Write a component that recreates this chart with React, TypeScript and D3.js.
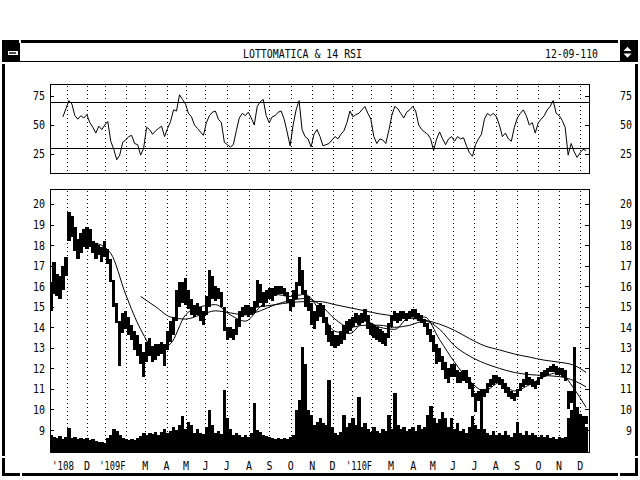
import React from 'react';
import * as d3 from 'd3';

// ---------- data ----------
const TITLE = 'LOTTOMATICA & 14 RSI';
const DATE_LABEL = '12-09-110';
const FIRST_SESSION = '2008-10-08';
const AXIS_END = '2010-12-14';
const FIRST_BAR = '2008-10-09';
const LAST_BAR = '2010-12-09';
const HOLIDAYS = ['2008-12-24', '2008-12-25', '2008-12-26', '2008-12-31', '2009-01-01', '2009-04-10', '2009-04-13',
  '2009-05-01', '2009-12-24', '2009-12-25', '2009-12-31', '2010-01-01', '2010-04-02', '2010-04-05'];

const monthLabels = ["'108", 'D', "'109", 'F', 'M', 'A', 'M', 'J', 'J', 'A', 'S', 'O', 'N', 'D',
  "'110", 'F', 'M', 'A', 'M', 'J', 'J', 'A', 'S', 'O', 'N', 'D'];
const priceTicks = [20, 19, 18, 17, 16, 15, 14, 13, 12, 11, 10, 9];
const rsiTicks = [75, 50, 25];
const rsiBands = [70, 30];

const priceLow = [
  14.8, 15.6, 15.5, 15.4, 15.8, 16.5, 18.2, 18.4, 17.7, 17.3,
  17.6, 17.9, 17.8, 17.9, 17.6, 17.3, 17.5, 17.2, 17.4, 17.1,
  16.2, 15.0, 14.2, 12.1, 13.7, 13.9, 13.6, 13.4, 12.9, 12.6,
  12.2, 11.6, 12.3, 12.6, 12.3, 12.4, 12.6, 12.7, 12.1, 12.9,
  13.3, 13.6, 14.3, 15.0, 15.2, 15.1, 14.9, 14.6, 14.5, 14.6,
  14.3, 14.1, 14.6, 15.0, 15.4, 15.3, 15.4, 15.0, 13.8, 13.4,
  13.5, 13.4, 13.6, 14.0, 14.5, 14.6, 14.5, 14.6, 14.7, 15.0,
  15.2, 15.0, 15.2, 15.4, 15.3, 15.5, 15.6, 15.6, 15.5, 15.2,
  14.8, 15.0, 15.4, 16.0, 15.6, 15.0, 14.8, 14.1, 13.9, 14.3,
  14.5, 14.2, 13.6, 13.3, 13.1, 13.0, 13.1, 13.2, 13.4, 13.7,
  13.8, 14.0, 14.2, 14.1, 14.2, 14.3, 13.9, 13.6, 13.5, 13.4,
  13.3, 13.2, 13.1, 13.5, 14.0, 14.3, 14.2, 14.3, 14.4, 14.3,
  14.4, 14.5, 14.4, 14.3, 14.2, 14.0, 13.6, 13.3, 12.8, 12.2,
  12.3, 11.9, 11.5, 11.3, 11.6, 11.6, 11.3, 11.3, 11.4, 11.3,
  11.0, 10.6, 9.9, 10.4, 10.5, 10.6, 10.8, 11.1, 11.2, 11.3,
  11.2, 11.0, 10.8, 10.6, 10.5, 10.4, 10.6, 10.9, 11.1, 11.2,
  11.2, 11.1, 11.0, 11.2, 11.5, 11.6, 11.7, 11.8, 11.8, 11.7,
  11.7, 11.6, 11.4, 10.0, 10.3, 9.9, 9.4, 9.3, 9.2, 9.3,
];
const priceHigh = [
  16.2, 17.2, 16.6, 16.5, 17.0, 17.4, 19.6, 19.4, 18.9, 18.3,
  18.6, 18.8, 18.9, 18.8, 18.2, 18.1, 18.0, 17.9, 18.2, 17.8,
  17.3, 16.3, 15.2, 14.3, 14.7, 14.8, 14.5, 14.1, 13.8, 13.6,
  13.2, 12.8, 13.3, 13.5, 13.1, 13.2, 13.2, 13.3, 13.2, 13.8,
  14.3, 14.5, 15.8, 16.2, 16.2, 16.4, 15.8, 15.4, 15.1, 15.2,
  15.0, 14.8, 15.5, 16.8, 16.5, 16.0, 15.9, 15.7, 15.0, 14.0,
  14.0, 13.9, 14.4, 14.8, 15.0, 15.1, 15.1, 15.0, 15.3, 16.3,
  16.1, 15.7, 15.8, 15.9, 15.9, 16.0, 16.0, 16.0, 15.9, 15.7,
  15.4, 15.8, 16.2, 17.4, 16.8, 15.8, 15.5, 15.2, 14.8, 15.1,
  15.2, 15.1, 14.5, 14.1, 13.8, 13.6, 13.6, 13.8, 14.1, 14.3,
  14.4, 14.5, 14.7, 14.6, 14.7, 14.9, 14.6, 14.2, 14.1, 14.0,
  13.9, 13.8, 13.7, 14.2, 14.6, 14.8, 14.7, 14.8, 14.8, 14.7,
  14.8, 14.9, 14.9, 14.7, 14.6, 14.4, 14.2, 13.9, 13.6, 13.2,
  13.0, 12.6, 12.3, 12.0, 12.2, 12.2, 11.9, 11.8, 11.9, 11.9,
  11.6, 11.3, 10.8, 10.9, 11.0, 11.0, 11.3, 11.5, 11.7, 11.7,
  11.6, 11.5, 11.3, 11.1, 10.9, 10.8, 11.0, 11.3, 11.5, 11.8,
  11.6, 11.5, 11.4, 11.6, 11.8, 11.9, 12.0, 12.1, 12.2, 12.1,
  12.0, 12.0, 11.9, 10.9, 10.9, 10.6, 10.1, 9.8, 9.7, 9.7,
];
// volume, thousands of shares
const volume = [
  850, 750, 700, 800, 650, 750, 1200, 700, 750, 650,
  700, 650, 700, 600, 650, 550, 500, 500, 450, 700,
  850, 1150, 1050, 850, 700, 650, 600, 650, 600, 700,
  800, 950, 850, 950, 900, 1000, 850, 1000, 1150, 950,
  1050, 1250, 1100, 1350, 1800, 1150, 1500, 1350, 950, 1150,
  950, 900, 1250, 2100, 1350, 950, 1050, 900, 3100, 1700,
  1150, 850, 950, 850, 750, 850, 750, 950, 2450, 1100,
  1000, 850, 800, 750, 700, 650, 700, 650, 700, 650,
  750, 850, 2100, 2600, 5250, 4400, 2100, 1850, 1350, 1500,
  1700, 1450, 1350, 3600, 1250, 950, 850, 1000, 1850, 1250,
  1450, 1700, 1350, 2750, 1250, 1450, 1150, 1000, 1250, 1050,
  950, 1150, 1050, 1850, 1150, 2950, 1350, 1150, 1250, 1050,
  1150, 1250, 1050, 1350, 1150, 1250, 1850, 2300, 1700, 1450,
  1650, 2000, 1700, 1250, 1700, 1150, 1450, 1050, 1150, 950,
  1250, 1800, 1350, 1150, 2700, 1150, 950, 850, 1050, 850,
  950, 850, 1050, 850, 750, 950, 1500, 950, 850, 1050,
  850, 950, 850, 750, 850, 750, 850, 700, 750, 650,
  750, 700, 750, 1700, 2100, 5250, 1850, 1700, 1450, 1250,
];
const rsi14: (number | null)[] = [
  null, null, null, null,
  57, 64, 71, 68, 58, 55, 58, 56, 59, 52,
  48, 43, 49, 46, 50, 53, 36, 29, 20, 24,
  35, 37, 40, 41, 34, 33, 24, 30, 48, 46,
  42, 45, 47, 49, 40, 47, 53, 63, 62, 76,
  72, 68, 60, 57, 50, 47, 44, 41, 52, 58,
  61, 62, 55, 52, 35, 33, 31, 33, 45, 56,
  60, 58, 61, 56, 50, 66, 70, 72, 58, 52,
  57, 58, 61, 62, 55, 44, 32, 50, 63, 71,
  46, 40, 38, 31, 42, 46, 40, 32, 33, 34,
  37, 40, 38, 42, 45, 52, 62, 57, 59, 60,
  63, 66, 60, 55, 40, 34, 38, 37, 34, 45,
  58, 66, 64, 60, 56, 61, 63, 66, 62, 50,
  46, 44, 42, 38, 28, 38, 44, 38, 33, 38,
  40, 36, 40, 38, 39, 32, 26, 23, 33, 38,
  42, 55, 60, 58, 60, 57, 50, 40, 43, 38,
  36, 48, 56, 60, 63, 58, 50, 52, 43, 52,
  55, 58, 63, 66, 71, 60, 58, 54, 48, 24,
  34, 27, 22, 26, 29, 28,
];
// moving averages, one reading every 5th bar (last one at the final bar)
const maShort: (number | null)[] = [null, null, null, 18.1, 17.6, 15.6, 13.9, 12.9, 13.2, 14.6,
  15.0, 15.1, 14.6, 14.3, 15.0, 15.6, 15.5, 15.6, 14.8, 13.8,
  13.7, 14.3, 14.0, 13.9, 14.5, 14.5, 13.4, 12.3, 11.4, 10.9,
  11.3, 10.9, 11.2, 11.6, 11.8, 11.0, 10.1];
const maMid: (number | null)[] = [null, null, null, null, null, null, 15.5, 15.0, 14.5, 14.4,
  14.6, 14.8, 14.7, 14.6, 14.8, 15.1, 15.3, 15.4, 15.1, 14.4,
  14.0, 14.1, 14.1, 14.0, 14.1, 14.3, 13.9, 13.1, 12.6, 12.25,
  12.0, 11.8, 11.7, 11.65, 11.6, 11.4, 11.1];
const maLong: (number | null)[] = [null, null, null, null, null, null, null, null, null, null,
  null, null, null, 14.9, 15.0, 15.1, 15.2, 15.25, 15.25, 15.1,
  14.95, 14.8, 14.65, 14.55, 14.45, 14.35, 14.15, 13.85, 13.45, 13.1,
  12.9, 12.7, 12.55, 12.4, 12.3, 12.15, 11.8];
const MA_STEP = 5;

// ---------- layout ----------
const W = 640, H = 480;
const PX0 = 50, PX1 = 589;
const RSI_TOP = 84, RSI_BOT = 173;
const MAIN_TOP = 189, MAIN_BOT = 452;
const FONT = 'DejaVu Sans Mono, Liberation Mono, monospace';

const fmt = d3.timeFormat('%Y-%m-%d');
const holidaySet = new Set(HOLIDAYS);
const parse = d3.timeParse('%Y-%m-%d');
const tradingDays = d3.timeDay
  .range(parse(FIRST_SESSION)!, d3.timeDay.offset(parse(AXIS_END)!, 1))
  .filter(d => d.getDay() !== 0 && d.getDay() !== 6 && !holidaySet.has(fmt(d)));
const dayIndex = (s: string) => tradingDays.findIndex(d => fmt(d) === s);

const x = d3.scaleLinear().domain([0, tradingDays.length - 1]).range([PX0, PX1]);
const yRsi = d3.scaleLinear().domain([8.6, 85.3]).range([RSI_BOT, RSI_TOP]);
const yPrice = d3.scaleLinear().domain([7.93, 20.73]).range([MAIN_BOT, MAIN_TOP]);
const yVol = d3.scaleLinear().domain([0, 5250]).range([MAIN_BOT, 347]);

const n = priceLow.length;
const d0 = dayIndex(FIRST_BAR);
const d1 = dayIndex(LAST_BAR);
const barDay = (i: number) => d0 + (i * (d1 - d0)) / (n - 1);
const bx = (i: number) => x(barDay(i));
const bw = bx(1) - bx(0);

const months = d3.timeMonth.range(new Date(2008, 10, 1), new Date(2011, 0, 1));
const monthX = months.map(m => x(tradingDays.findIndex(d => d >= m)));

function Label({ x: lx, y, text, anchor = 'middle', size = 12, len }: any) {
  const L = len ?? text.length * 6;
  return (
    <text x={lx} y={y} textAnchor={anchor} fontFamily={FONT} fontSize={size}
      textLength={L} lengthAdjust="spacingAndGlyphs" fill="#000">{text}</text>
  );
}

export default function App() {
  const rsiLine = d3.line<number | null>()
    .defined(v => v != null)
    .x((_, i) => bx(i))
    .y(v => yRsi(v as number));
  const maLine = d3.line<number | null>()
    .defined(v => v != null)
    .x((_, k) => bx(Math.min(k * MA_STEP, n - 1)))
    .y(v => yPrice(v as number))
    .curve(d3.curveMonotoneX);

  // month labels: a year label swallows a following "F" into one text, as in the reference
  const axisLabels: { x: number; text: string; anchor: string; len: number }[] = [];
  for (let i = 0; i < monthLabels.length; i++) {
    const t = monthLabels[i];
    const gx = monthX[i];
    if (t.startsWith("'")) {
      const next = monthLabels[i + 1];
      const joined = next === 'F' ? t + next : t;
      if (next === 'F') i++;
      axisLabels.push({
        x: i === 0 ? PX0 + 2 : gx - 6,
        text: joined,
        anchor: 'start',
        len: joined.length === 5 ? 26 : 22,
      });
    } else {
      axisLabels.push({ x: gx, text: t, anchor: 'middle', len: 6 });
    }
  }

  return (
    <svg width={W} height={H} style={{ display: 'block', position: 'absolute', left: 0, top: 0 }}
      xmlns="http://www.w3.org/2000/svg">
      <defs>
        <clipPath id="rsiClip"><rect x={PX0} y={RSI_TOP} width={PX1 - PX0} height={RSI_BOT - RSI_TOP} /></clipPath>
        <clipPath id="mainClip"><rect x={PX0} y={MAIN_TOP} width={PX1 - PX0} height={MAIN_BOT - MAIN_TOP} /></clipPath>
      </defs>
      <rect x={0} y={0} width={W} height={H} fill="#fff" />

      {/* window frame */}
      <g fill="#000" shapeRendering="crispEdges">
        <rect x={2} y={40} width={636} height={3} />
        <rect x={2} y={473} width={636} height={3} />
        <rect x={2} y={40} width={3} height={436} />
        <rect x={635} y={40} width={3} height={436} />
        <rect x={5} y={43} width={15} height={18} />
        <rect x={620} y={43} width={15} height={18} />
        <rect x={5} y={61} width={630} height={1} />
      </g>
      <g fill="#fff" shapeRendering="crispEdges">
        <rect x={19} y={40} width={2} height={3} />
        <rect x={618} y={40} width={2} height={3} />
        <rect x={2} y={62} width={3} height={2} />
        <rect x={635} y={62} width={3} height={2} />
        <rect x={2} y={456} width={3} height={2} />
        <rect x={635} y={456} width={3} height={2} />
        <rect x={20} y={473} width={2} height={3} />
        <rect x={618} y={473} width={2} height={3} />
        <rect x={7.5} y={51} width={10} height={4} />
      </g>
      <rect x={9} y={52.3} width={7} height={1.4} fill="#000" />
      <path d="M627.5,46.8 L631.5,51 L623.5,51 Z M623.5,53.5 L631.5,53.5 L627.5,57.7 Z" fill="#fff" />
      <Label x={302.5} y={58} text={TITLE} size={13} len={119} />
      <Label x={545} y={58} text={DATE_LABEL} anchor="start" size={13} len={53} />

      {/* RSI panel */}
      <g shapeRendering="crispEdges">
        {monthX.map((mx, i) => (
          <line key={'rg' + i} x1={Math.round(mx) + 0.5} x2={Math.round(mx) + 0.5} y1={RSI_TOP + 2} y2={RSI_BOT}
            stroke="#000" strokeWidth={1} strokeDasharray="1 3" />
        ))}
        {rsiBands.map(v => (
          <line key={'b' + v} x1={PX0} x2={PX1} y1={Math.round(yRsi(v)) + 0.5} y2={Math.round(yRsi(v)) + 0.5}
            stroke="#000" strokeWidth={1} />
        ))}
        {rsiTicks.map(v => (
          <g key={'rt' + v}>
            <line x1={PX0} x2={PX0 + 4} y1={Math.round(yRsi(v)) + 0.5} y2={Math.round(yRsi(v)) + 0.5} stroke="#000" />
            <line x1={PX1 - 4} x2={PX1} y1={Math.round(yRsi(v)) + 0.5} y2={Math.round(yRsi(v)) + 0.5} stroke="#000" />
          </g>
        ))}
      </g>
      <path d={rsiLine(rsi14) || ''} fill="none" stroke="#000" strokeWidth={1} clipPath="url(#rsiClip)" />
      <rect x={PX0 + 0.5} y={RSI_TOP + 0.5} width={PX1 - PX0} height={RSI_BOT - RSI_TOP} fill="none" stroke="#000"
        strokeWidth={1} shapeRendering="crispEdges" />
      {rsiTicks.map(v => (
        <g key={'rl' + v}>
          <Label x={45} y={yRsi(v) + 4.5} text={String(v)} anchor="end" />
          <Label x={632} y={yRsi(v) + 4.5} text={String(v)} anchor="end" />
        </g>
      ))}

      {/* main panel */}
      <g shapeRendering="crispEdges">
        {monthX.map((mx, i) => (
          <line key={'mg' + i} x1={Math.round(mx) + 0.5} x2={Math.round(mx) + 0.5} y1={MAIN_TOP + 2} y2={MAIN_BOT}
            stroke="#000" strokeWidth={1} strokeDasharray="1 3" />
        ))}
      </g>
      <g clipPath="url(#mainClip)" shapeRendering="crispEdges" fill="#000">
        {volume.map((v, i) => (
          <rect key={'v' + i} x={bx(i) - bw / 2} y={yVol(v)} width={bw + 0.4} height={MAIN_BOT - yVol(v)} />
        ))}
        {priceLow.map((lo, i) => {
          const top = yPrice(priceHigh[i]);
          const h = Math.max(1, yPrice(lo) - top);
          return <rect key={'p' + i} x={bx(i) - bw / 2} y={top} width={bw + 0.2} height={h} />;
        })}
      </g>
      <g clipPath="url(#mainClip)" fill="none" stroke="#000" strokeWidth={1}>
        <path d={maLine(maShort) || ''} />
        <path d={maLine(maMid) || ''} />
        <path d={maLine(maLong) || ''} />
      </g>
      <g shapeRendering="crispEdges">
        {priceTicks.map(v => (
          <g key={'pt' + v}>
            <line x1={PX0} x2={PX0 + 4} y1={Math.round(yPrice(v)) + 0.5} y2={Math.round(yPrice(v)) + 0.5} stroke="#000" />
            <line x1={PX1 - 4} x2={PX1} y1={Math.round(yPrice(v)) + 0.5} y2={Math.round(yPrice(v)) + 0.5} stroke="#000" />
          </g>
        ))}
      </g>
      <rect x={PX0 + 0.5} y={MAIN_TOP + 0.5} width={PX1 - PX0} height={MAIN_BOT - MAIN_TOP} fill="none" stroke="#000"
        strokeWidth={1} shapeRendering="crispEdges" />
      {priceTicks.map(v => (
        <g key={'pl' + v}>
          <Label x={45} y={yPrice(v) + 4.5} text={String(v)} anchor="end" />
          <Label x={632} y={yPrice(v) + 4.5} text={String(v)} anchor="end" />
        </g>
      ))}

      {/* month labels */}
      {axisLabels.map((l, i) => (
        <Label key={'ml' + i} x={l.x} y={470} text={l.text} anchor={l.anchor} len={l.len} />
      ))}
    </svg>
  );
}
